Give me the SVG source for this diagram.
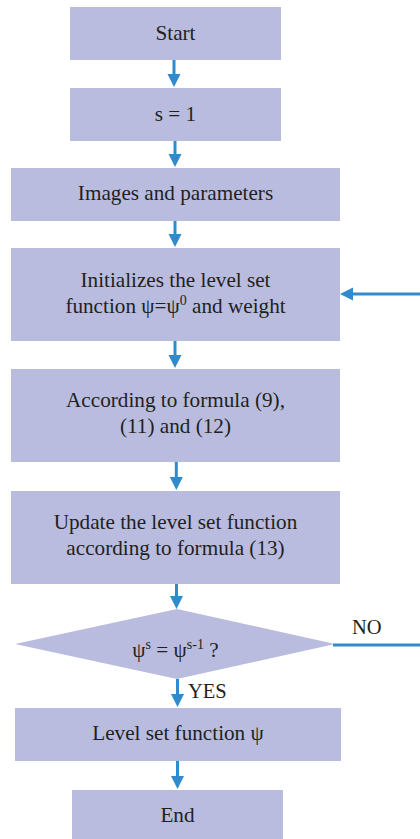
<svg xmlns="http://www.w3.org/2000/svg" width="420" height="839" viewBox="0 0 420 839">
<defs>
<style>
.box{fill:#b9bcde;}
text{font-family:'Liberation Serif',serif;fill:#231f20;}
.t{font-size:21.2px;text-anchor:middle;}
.lbl{font-size:20.5px;}
.c{stroke:#2f8bcb;stroke-width:3;fill:none;}
.sup{font-size:14px;}
</style>
<marker id="ah" markerUnits="userSpaceOnUse" markerWidth="14" markerHeight="14" viewBox="0 0 14 14" refX="2" refY="7" orient="auto">
<path d="M0,0.5 L13,7 L0,13.5 z" fill="#2f8bcb"/>
</marker>
</defs>
<g id="start"><rect class="box" x="70" y="7" width="211" height="53"/><text class="t" x="175.5" y="40">Start</text></g>
<g id="s1"><rect class="box" x="70" y="88" width="211" height="53"/><text class="t" x="175.5" y="121">s = 1</text></g>
<g id="images"><rect class="box" x="11" y="168" width="329" height="53"/><text class="t" x="175.5" y="200">Images and parameters</text></g>
<g id="init"><rect class="box" x="11" y="248" width="329" height="93"/><text class="t" x="175.5" y="287">Initializes the level set</text><text class="t" x="175.5" y="313">function ψ=ψ<tspan class="sup" dy="-8">0</tspan><tspan dy="8"> and weight</tspan></text></g>
<g id="according"><rect class="box" x="11" y="369" width="329" height="93"/><text class="t" x="175.5" y="407">According to formula (9),</text><text class="t" x="175.5" y="433">(11) and (12)</text></g>
<g id="update"><rect class="box" x="11" y="491" width="329" height="93"/><text class="t" x="175.5" y="529">Update the level set function</text><text class="t" x="175.5" y="555">according to formula (13)</text></g>
<g id="decision"><polygon class="box" points="177,609 335,644 177,679 15,644"/><text class="t" x="175.5" y="657">ψ<tspan class="sup" dy="-8">s</tspan><tspan dy="8"> = ψ</tspan><tspan class="sup" dy="-8">s-1</tspan><tspan dy="8"> ?</tspan></text></g>
<g id="level"><rect class="box" x="15" y="708" width="326" height="53"/><text class="t" x="178" y="740">Level set function ψ</text></g>
<g id="end"><rect class="box" x="72" y="790" width="211" height="53"/><text class="t" x="177.5" y="822">End</text></g>
<g id="connectors">
<line class="c" x1="174" y1="60" x2="174" y2="76" marker-end="url(#ah)"/>
<line class="c" x1="175" y1="141" x2="175" y2="156" marker-end="url(#ah)"/>
<line class="c" x1="175" y1="221" x2="175" y2="236" marker-end="url(#ah)"/>
<line class="c" x1="175" y1="341" x2="175" y2="357" marker-end="url(#ah)"/>
<line class="c" x1="176.3" y1="462" x2="176.3" y2="479" marker-end="url(#ah)"/>
<line class="c" x1="176.5" y1="584" x2="176.5" y2="598" marker-end="url(#ah)"/>
<line class="c" x1="177.5" y1="679" x2="177.5" y2="696" marker-end="url(#ah)"/>
<line class="c" x1="177.5" y1="761" x2="177.5" y2="778" marker-end="url(#ah)"/>
<line class="c" x1="420" y1="294" x2="351" y2="294" marker-end="url(#ah)"/>
<line class="c" x1="333" y1="645" x2="420" y2="645"/>
<text class="lbl" x="352" y="634">NO</text>
<text class="lbl" x="188" y="698">YES</text>
</g>
</svg>
